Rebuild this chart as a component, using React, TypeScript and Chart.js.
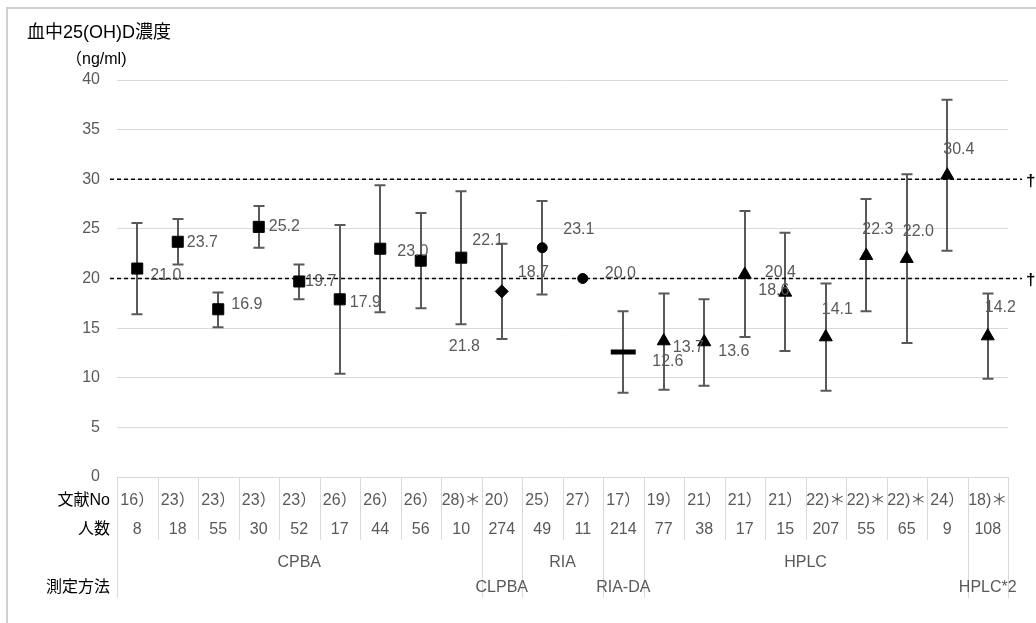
import { useEffect, useRef } from 'react';
import { Chart, registerables } from 'chart.js';

Chart.register(...registerables);

// ---- data ----
const refNo = ['16）', '23）', '23）', '23）', '23）', '26）', '26）', '26）', '28)＊', '20）', '25）', '27）', '17）', '19）', '21）', '21）', '21）', '22)＊', '22)＊', '22)＊', '24）', '18)＊'];
const subjects = [8, 18, 55, 30, 52, 17, 44, 56, 10, 274, 49, 11, 214, 77, 38, 17, 15, 207, 55, 65, 9, 108];
const means = [21.0, 23.7, 16.9, 25.2, 19.7, 17.9, 23.0, 21.8, 22.1, 18.7, 23.1, 20.0, 12.6, 13.7, 13.6, 20.4, 18.6, 14.1, 22.3, 22.0, 30.4, 14.2];
const upper = [25.6, 26.0, 18.6, 27.3, 21.4, 25.4, 29.4, 26.6, 28.8, 23.5, 27.8, null, 16.7, 18.5, 17.9, 26.8, 24.6, 19.5, 28.0, 30.5, 38.0, 18.5];
const lower = [16.4, 21.4, 15.1, 23.1, 17.9, 10.4, 16.6, 17.0, 15.4, 13.9, 18.4, null, 8.5, 8.8, 9.2, 14.1, 12.7, 8.7, 16.7, 13.5, 22.8, 9.9];
const methodNames = ['CPBA', 'CLPBA', 'RIA', 'RIA-DA', 'HPLC', 'HPLC*2'];
const methodCounts = [9, 1, 2, 1, 8, 1];
const markerTypes = ['rect', 'rect', 'rect', 'rect', 'rect', 'rect', 'rect', 'rect', 'rect', 'rectRot', 'circle', 'circle', 'line', 'triangle', 'triangle', 'triangle', 'triangle', 'triangle', 'triangle', 'triangle', 'triangle', 'triangle'];
const refLines = [20, 30];
const yTicks = { min: 0, max: 40, step: 5 };
const titleText = '血中25(OH)D濃度';
const unitText = '（ng/ml)';
const rowLabels = ['文献No', '人数', '測定方法'];

// ---- label placement (px offsets from marker) ----
const labelDx = [13, 9, 13, 10, 6, 10, 17, 28, 11, 16, 21, 22, 29, 9, 14, 20, -27, -4, -4, -4, -4, -3];
const labelDy = [7, 1, -5, 0, 0, 3, 3, 86, -17, -19, -18, -5, 10, 7, 10, -2, -2, -27, -26, -27, -26, -28];

// ---- styles ----
const W = 1036;
const H = 623;
const FONT = '"Liberation Sans", "Noto Sans CJK JP", sans-serif';
const GREY = '#595959';
const GRID = '#d9d9d9';
const markerRadius: Record<string, number> = { rect: 7.8, rectRot: 6.5, circle: 5, line: 12.5, triangle: 7.5 };

const customPlugin = {
  id: 'customDraw',
  beforeDraw(chart: any) {
    const ctx = chart.ctx;
    ctx.save();
    ctx.fillStyle = '#fff';
    ctx.fillRect(0, 0, W, H);
    ctx.strokeStyle = '#d0d0d0';
    ctx.lineWidth = 2;
    ctx.strokeRect(7, 8, W + 40, H + 40);
    ctx.restore();
  },
  beforeDatasetsDraw(chart: any) {
    const ctx = chart.ctx;
    const x = chart.scales.x;
    const y = chart.scales.y;
    const area = chart.chartArea;
    ctx.save();
    // error bars
    ctx.strokeStyle = GREY;
    ctx.lineWidth = 2;
    means.forEach((_, i) => {
      const hi = upper[i];
      const lo = lower[i];
      if (hi == null || lo == null) return;
      const px = Math.round(x.getPixelForValue(i));
      const yh = y.getPixelForValue(hi);
      const yl = y.getPixelForValue(lo);
      ctx.beginPath();
      ctx.moveTo(px, yh);
      ctx.lineTo(px, yl);
      ctx.moveTo(px - 5.5, yh);
      ctx.lineTo(px + 5.5, yh);
      ctx.moveTo(px - 5.5, yl);
      ctx.lineTo(px + 5.5, yl);
      ctx.stroke();
    });
    // reference lines
    ctx.strokeStyle = '#000';
    ctx.lineWidth = 1.5;
    ctx.setLineDash([4, 3]);
    refLines.forEach((v) => {
      const py = y.getPixelForValue(v);
      ctx.beginPath();
      ctx.moveTo(area.left - 7, py);
      ctx.lineTo(area.right + 14, py);
      ctx.stroke();
    });
    ctx.setLineDash([]);
    ctx.fillStyle = '#000';
    ctx.font = `bold 17px ${FONT}`;
    ctx.textAlign = 'left';
    ctx.textBaseline = 'middle';
    refLines.forEach((v) => {
      ctx.fillText('†', area.right + 18, y.getPixelForValue(v) + 2);
    });
    ctx.restore();
  },
  afterDatasetsDraw(chart: any) {
    const ctx = chart.ctx;
    const x = chart.scales.x;
    const y = chart.scales.y;
    ctx.save();
    ctx.fillStyle = GREY;
    ctx.font = `16px ${FONT}`;
    ctx.textAlign = 'left';
    ctx.textBaseline = 'middle';
    means.forEach((v, i) => {
      ctx.fillText(v.toFixed(1), x.getPixelForValue(i) + labelDx[i], y.getPixelForValue(v) + labelDy[i]);
    });
    ctx.restore();
  },
  afterDraw(chart: any) {
    const ctx = chart.ctx;
    const x = chart.scales.x;
    const area = chart.chartArea;
    const n = means.length;
    const cw = (area.right - area.left) / n;
    const base = area.bottom;
    ctx.save();
    // title
    ctx.fillStyle = '#000';
    ctx.textAlign = 'left';
    ctx.textBaseline = 'middle';
    ctx.font = `18px ${FONT}`;
    ctx.fillText(titleText, 27, 33);
    ctx.font = `16px ${FONT}`;
    ctx.fillText(unitText, 66, 60);

    // group boundaries
    const bounds: number[] = [0];
    methodCounts.forEach((c) => bounds.push(bounds[bounds.length - 1] + c));
    ctx.strokeStyle = GRID;
    ctx.lineWidth = 1;
    for (let i = 0; i <= n; i++) {
      const px = Math.round(area.left + i * cw) + 0.5;
      const long = bounds.includes(i);
      ctx.beginPath();
      ctx.moveTo(px, base);
      ctx.lineTo(px, base + (long ? 121 : 63));
      ctx.stroke();
    }
    // row labels
    ctx.fillStyle = '#000';
    ctx.textAlign = 'right';
    ctx.font = `16px ${FONT}`;
    ctx.fillText(rowLabels[0], area.left - 7, base + 24);
    ctx.fillText(rowLabels[1], area.left - 7, base + 53);
    ctx.fillText(rowLabels[2], area.left - 7, base + 111);
    // cells
    ctx.fillStyle = GREY;
    ctx.textAlign = 'center';
    means.forEach((_, i) => {
      const px = x.getPixelForValue(i);
      ctx.fillText(refNo[i], px, base + 24);
      ctx.fillText(String(subjects[i]), px, base + 53);
    });
    // method labels
    methodNames.forEach((name, g) => {
      const l = area.left + bounds[g] * cw;
      const r = area.left + bounds[g + 1] * cw;
      const fits = ctx.measureText(name).width < r - l - 4;
      ctx.fillText(name, (l + r) / 2, base + (fits ? 86 : 111));
    });
    ctx.restore();
  },
};

export default function App() {
  const ref = useRef<HTMLCanvasElement | null>(null);
  useEffect(() => {
    if (!ref.current) return;
    const chart = new Chart(ref.current, {
      type: 'line',
      data: {
        labels: refNo,
        datasets: [
          {
            data: means,
            showLine: false,
            pointStyle: markerTypes as any,
            pointRadius: markerTypes.map((t) => markerRadius[t]),
            pointBorderWidth: markerTypes.map((t) => (t === 'line' ? 5 : 1)),
            pointBackgroundColor: '#000',
            pointBorderColor: '#000',
            pointHoverRadius: markerTypes.map((t) => markerRadius[t]),
          },
        ],
      },
      options: {
        animation: false,
        responsive: false,
        maintainAspectRatio: false,
        events: [],
        layout: { padding: { left: 8, right: 28, top: 80, bottom: 146 } },
        plugins: { legend: { display: false }, tooltip: { enabled: false } },
        scales: {
          x: { type: 'category', offset: true, display: false },
          y: {
            min: yTicks.min,
            max: yTicks.max,
            ticks: { stepSize: yTicks.step, color: GREY, font: { family: FONT, size: 16 }, padding: 17 },
            grid: { color: GRID, drawTicks: false, lineWidth: 1 },
            border: { display: false },
            afterFit: (s: any) => {
              s.width = 109;
            },
          },
        },
      },
      plugins: [customPlugin],
    });
    return () => chart.destroy();
  }, []);
  return (
    <div style={{ position: 'fixed', left: 0, top: 0, width: W, height: H, background: '#fff' }}>
      <canvas ref={ref} width={W} height={H} style={{ display: 'block', width: W, height: H }} />
    </div>
  );
}
